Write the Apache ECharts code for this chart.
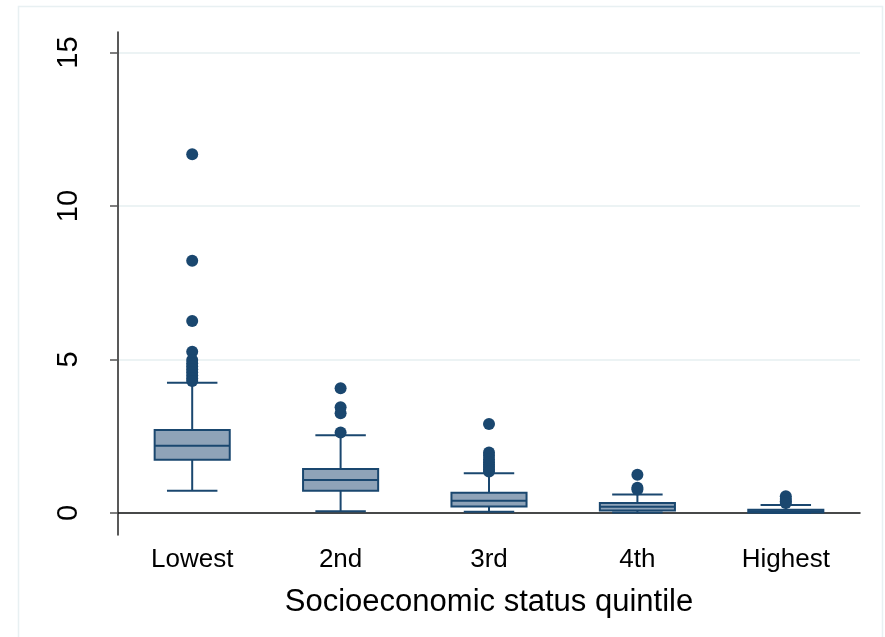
<!DOCTYPE html>
<html>
<head>
<meta charset="utf-8">
<script src="https://cdn.jsdelivr.net/npm/echarts@6/dist/echarts.min.js"></script>
<style>
  html, body { margin: 0; padding: 0; background: #ffffff; }
  #chart { width: 885px; height: 637px; }
</style>
</head>
<body>
<div id="chart"></div>
<script>
// Quintile groups along the x axis
const categories = ['Lowest', '2nd', '3rd', '4th', 'Highest'];

// Box statistics per group
const lowerWhisker = [0.72, 0.05, 0.04, 0.01, 0.00];
const q1           = [1.73, 0.72, 0.21, 0.075, 0.01];
const median       = [2.19, 1.07, 0.40, 0.20, 0.05];
const q3           = [2.70, 1.43, 0.66, 0.32, 0.10];
const upperWhisker = [4.24, 2.53, 1.29, 0.60, 0.26];

// Outlying observations per group
const outliers = [
  [11.69, 8.22, 6.25, 5.25, 4.98, 4.88, 4.78, 4.68, 4.58, 4.48, 4.38, 4.30],
  [4.06, 3.44, 3.25, 2.62],
  [2.90, 1.97, 1.86, 1.75, 1.65, 1.57, 1.50, 1.42, 1.35],
  [1.24, 0.82, 0.76],
  [0.54, 0.45, 0.38, 0.32]
];

// Y-axis tick values
const yTicks = [0, 5, 10, 15];

const navy = '#1a476f';
const boxFill = '#8fa3b8';
const font = 'Liberation Sans, Arial, sans-serif';

const boxData = categories.map((c, i) => [i, lowerWhisker[i], q1[i], median[i], q3[i], upperWhisker[i]]);
const outlierData = [];
outliers.forEach((vals, i) => vals.forEach(v => outlierData.push([i, v])));

// Draws one box: whiskers with short caps, the interquartile box and the median line
function renderBox(params, api) {
  const idx = api.value(0);
  const band = api.size([1, 0])[0];
  const boxHalf = band * 0.253;
  const capHalf = band * 0.17;
  const pLow = api.coord([idx, api.value(1)]);
  const pQ1 = api.coord([idx, api.value(2)]);
  const pMed = api.coord([idx, api.value(3)]);
  const pQ3 = api.coord([idx, api.value(4)]);
  const pHigh = api.coord([idx, api.value(5)]);
  const cx = pQ1[0];
  const lineStyle = { stroke: navy, lineWidth: 2, fill: null };
  return {
    type: 'group',
    children: [
      { type: 'line', shape: { x1: cx, y1: pHigh[1], x2: cx, y2: pQ3[1] }, style: lineStyle },
      { type: 'line', shape: { x1: cx, y1: pQ1[1], x2: cx, y2: pLow[1] }, style: lineStyle },
      { type: 'line', shape: { x1: cx - capHalf, y1: pHigh[1], x2: cx + capHalf, y2: pHigh[1] }, style: lineStyle },
      { type: 'line', shape: { x1: cx - capHalf, y1: pLow[1], x2: cx + capHalf, y2: pLow[1] }, style: lineStyle },
      {
        type: 'rect',
        shape: { x: cx - boxHalf, y: pQ3[1], width: boxHalf * 2, height: pQ1[1] - pQ3[1] },
        style: { fill: boxFill, stroke: navy, lineWidth: 2 }
      },
      { type: 'line', shape: { x1: cx - boxHalf, y1: pMed[1], x2: cx + boxHalf, y2: pMed[1] }, style: lineStyle }
    ]
  };
}

const chart = echarts.init(document.getElementById('chart'), null, { renderer: 'canvas' });
chart.setOption({
  backgroundColor: '#ffffff',
  animation: false,
  graphic: [{
    type: 'rect',
    shape: { x: 18.5, y: 6.5, width: 864, height: 640 },
    style: { fill: 'none', stroke: '#e8f0f2', lineWidth: 1.5 },
    silent: true,
    z: -1
  }],
  grid: { left: 118, right: 25, top: 32, bottom: 102, containLabel: false },
  xAxis: {
    type: 'category',
    data: categories,
    boundaryGap: true,
    axisLine: { show: true, lineStyle: { color: '#111111', width: 1.5 } },
    axisTick: { show: false },
    axisLabel: {
      color: '#000000',
      fontFamily: font,
      fontSize: 26,
      margin: 12
    },
    name: 'Socioeconomic status quintile',
    nameLocation: 'middle',
    nameGap: 52,
    nameTextStyle: {
      color: '#000000',
      fontFamily: font,
      fontSize: 31
    },
    splitLine: { show: false }
  },
  yAxis: {
    type: 'value',
    min: -0.72,
    max: 15.67,
    axisLine: { show: true, lineStyle: { color: '#222222', width: 1.5 } },
    axisTick: {
      show: true,
      length: 8,
      customValues: yTicks,
      lineStyle: { color: '#555555', width: 1.5 }
    },
    axisLabel: {
      customValues: yTicks,
      rotate: 90,
      color: '#000000',
      fontFamily: font,
      fontSize: 29,
      margin: 49,
      verticalAlign: 'middle',
      align: 'center'
    },
    splitLine: { show: true, lineStyle: { color: '#e6eff1', width: 1.5 } }
  },
  series: [
    {
      type: 'custom',
      renderItem: renderBox,
      data: boxData,
      encode: { x: 0, y: [1, 2, 3, 4, 5] },
      z: 2
    },
    {
      type: 'scatter',
      data: outlierData,
      symbol: 'circle',
      symbolSize: 12,
      itemStyle: { color: navy, opacity: 1 },
      z: 4
    }
  ]
});
</script>
</body>
</html>
